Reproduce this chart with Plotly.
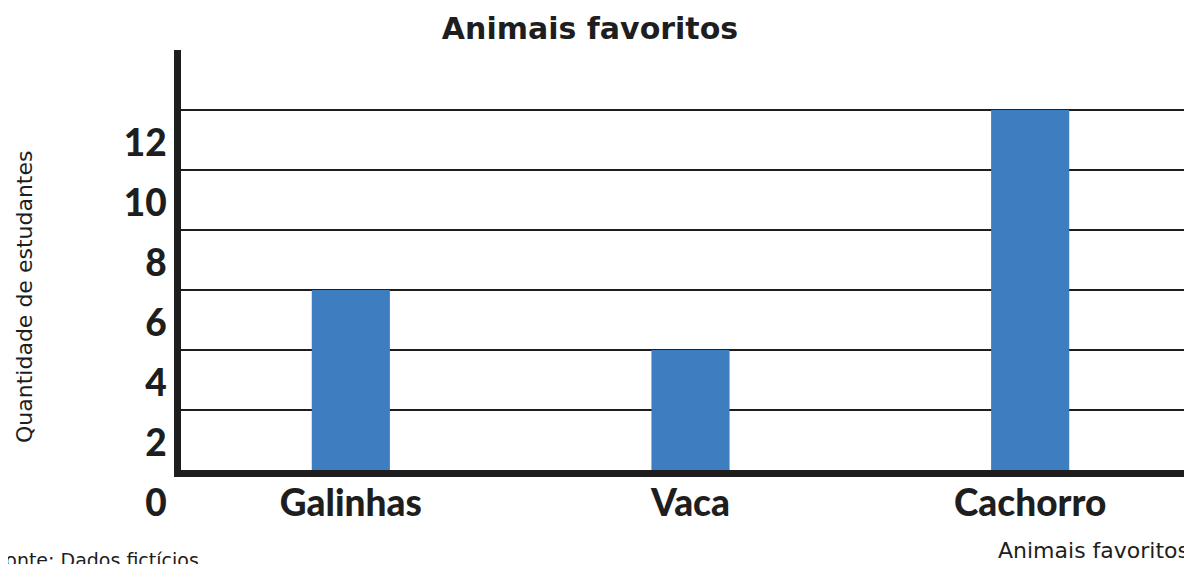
import plotly.graph_objects as go

categories = ["Galinhas", "Vaca", "Cachorro"]
values = [6, 4, 12]
tick_vals = [0, 2, 4, 6, 8, 10, 12]
tick_text = ["0", "2", "4", "6", "8", "10", "12"]

title_text = "Animais favoritos"
x_title = "Animais favoritos"
y_title = "Quantidade de estudantes"
source_text = "Fonte: Dados fictícios"

INK = "#1e1e1e"
TITLE_FONT = dict(family="'DejaVu Sans', sans-serif", color=INK, weight="bold")
TICK_FONT = dict(family="Lato, 'DejaVu Sans', sans-serif", color=INK, weight=900)
REG = dict(family="'DejaVu Sans', sans-serif", color=INK)

# page body has an 8px margin, so figure coords = screen coords - 8
L, T, B = 173, 42, 102

fig = go.Figure(
    go.Bar(
        x=categories,
        y=values,
        marker=dict(color="#3f7dc1", line=dict(width=0)),
        width=0.23,
    )
)

fig.update_layout(
    width=1192,
    height=564,
    paper_bgcolor="white",
    plot_bgcolor="white",
    margin=dict(l=L, r=0, t=T, b=B, autoexpand=False),
    showlegend=False,
    title=dict(
        text=title_text,
        x=582 / 1192,
        xanchor="center",
        y=1 - 20 / 564,
        yanchor="middle",
        font=dict(size=30, **TITLE_FONT),
    ),
)

fig.update_xaxes(
    showline=True,
    linecolor=INK,
    linewidth=7,
    showgrid=False,
    ticks="",
    tickfont=dict(size=37, **TICK_FONT),
    ticklabelstandoff=-5,
    automargin=False,
    fixedrange=True,
)

fig.update_yaxes(
    range=[0, 14],
    tickvals=tick_vals,
    ticktext=tick_text,
    showline=True,
    linecolor=INK,
    linewidth=7,
    showgrid=True,
    gridcolor=INK,
    gridwidth=2,
    zeroline=False,
    ticks="",
    tickfont=dict(size=37, **TICK_FONT),
    ticklabelshift=33,
    ticklabelstandoff=0,
    automargin=False,
    fixedrange=True,
)

fig.add_annotation(
    text=y_title, xref="paper", yref="paper", x=0, y=0.412,
    xanchor="center", yanchor="middle", textangle=-90, showarrow=False,
    font=dict(size=22, **REG), xshift=17 - L,
)
fig.add_annotation(
    text=x_title, xref="paper", yref="paper", x=1.0, y=0, yshift=-80,
    xanchor="right", yanchor="middle", showarrow=False,
    font=dict(size=22, **REG), xshift=-9,
)
fig.add_annotation(
    text=source_text, xref="paper", yref="paper", x=0, y=0, yshift=-90,
    xanchor="left", yanchor="middle", showarrow=False,
    font=dict(size=19, **REG), xshift=-15 - L,
)

fig.write_html("out.html")
